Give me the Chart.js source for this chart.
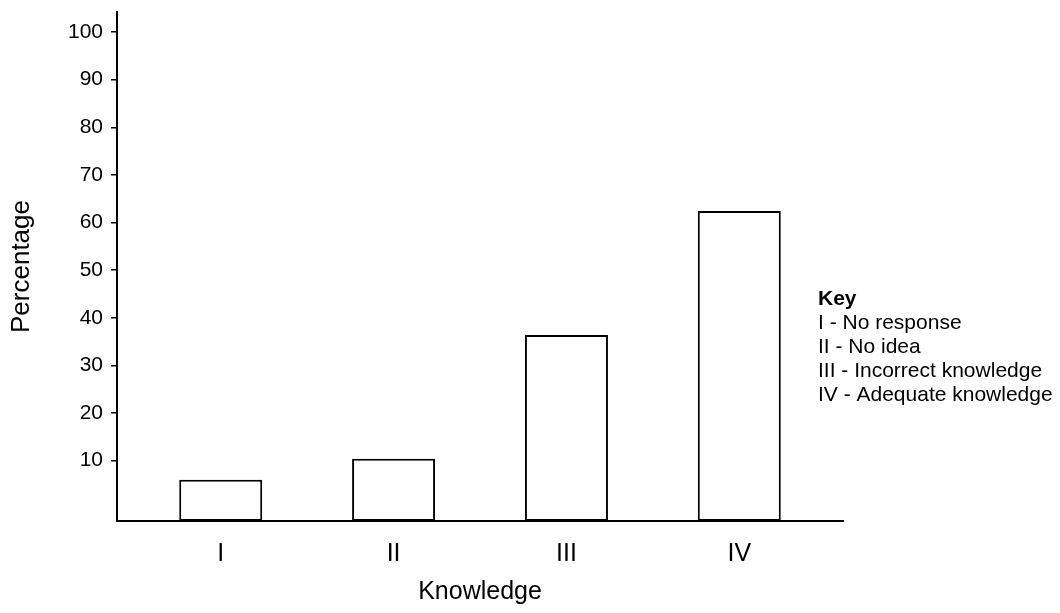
<!DOCTYPE html>
<html>
<head>
<meta charset="utf-8">
<script src="https://cdn.jsdelivr.net/npm/chart.js@4/dist/chart.umd.min.js"></script>
<style>
  html, body { margin: 0; padding: 0; background: #fff; }
  #chart { display: block; }
</style>
</head>
<body>
<canvas id="chart" width="1060" height="613"></canvas>
<script>
// data
const categories = ["I", "II", "III", "IV"];
const percentages = [6, 10.4, 36.4, 62.4];
const yTicks = [10, 20, 30, 40, 50, 60, 70, 80, 90, 100];
const keyTitle = "Key";
const keyLines = [
  "I - No response",
  "II - No idea",
  "III - Incorrect knowledge",
  "IV - Adequate knowledge"
];

const FONT = "'Liberation Sans', Arial, Helvetica, sans-serif";
const yMin = -2.67;
const yMax = 104.2;

// draws the "Key" block to the right of the plot
const keyPlugin = {
  id: "keyText",
  afterDraw(chart) {
    const ctx = chart.ctx;
    ctx.save();
    ctx.fillStyle = "#000";
    ctx.textBaseline = "middle";
    ctx.textAlign = "left";
    const x = 818;
    let y = 299;
    ctx.font = "bold 21px " + FONT;
    ctx.fillText(keyTitle, x, y);
    ctx.font = "21px " + FONT;
    keyLines.forEach(line => {
      y += 24;
      ctx.fillText(line, x, y);
    });
    ctx.restore();
  }
};

new Chart(document.getElementById("chart"), {
  type: "bar",
  data: {
    datasets: [{
      label: "Percentage",
      data: percentages.map((v, i) => ({ x: i + 1, y: v })),
      backgroundColor: "#fff",
      borderColor: "#000",
      borderWidth: 2,
      borderSkipped: false,
      base: yMin,
      categoryPercentage: 1,
      barPercentage: 0.48
    }]
  },
  options: {
    responsive: false,
    animation: false,
    layout: { padding: { top: 12, right: 217, left: 0, bottom: 0 } },
    plugins: {
      legend: { display: false },
      tooltip: { enabled: false }
    },
    scales: {
      x: {
        type: "linear",
        offset: false,
        min: 0.4,
        max: 4.6,
        afterFit: s => {
          s.height = 92;
          s.paddingLeft = 0;
          s.paddingRight = 0;
        },
        afterBuildTicks: s => { s.ticks = categories.map((c, i) => ({ value: i + 1 })); },
        grid: { display: false, drawTicks: false },
        border: { display: true, color: "#000", width: 2 },
        ticks: {
          color: "#000",
          font: { family: FONT, size: 25 },
          padding: 18,
          callback: v => categories[v - 1] || ""
        },
        title: {
          display: true,
          text: "Knowledge",
          color: "#000",
          font: { family: FONT, size: 25 },
          padding: { top: 0, bottom: 6 }
        }
      },
      y: {
        min: yMin,
        max: yMax,
        afterFit: s => {
          s.width = 117;
          s.paddingTop = 0;
          s.paddingBottom = 0;
        },
        afterBuildTicks: s => { s.ticks = yTicks.map(v => ({ value: v })); },
        grid: { drawOnChartArea: false, drawTicks: true, tickLength: 6, color: "#000", lineWidth: 1.5 },
        border: { display: true, color: "#000", width: 2 },
        ticks: {
          color: "#000",
          font: { family: FONT, size: 21 },
          padding: 8
        },
        title: {
          display: true,
          text: "Percentage",
          color: "#000",
          font: { family: FONT, size: 26 },
          padding: { top: 6, bottom: 0 }
        }
      }
    }
  },
  plugins: [keyPlugin]
});
</script>
</body>
</html>
